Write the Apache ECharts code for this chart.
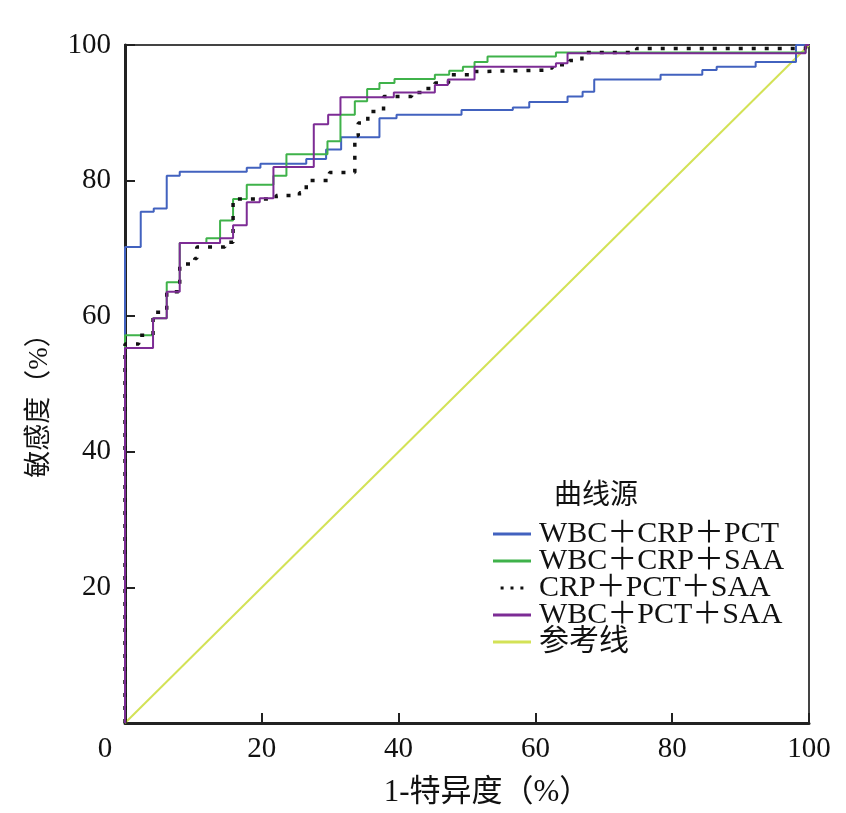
<!DOCTYPE html>
<html>
<head>
<meta charset="utf-8">
<script src="https://cdn.jsdelivr.net/npm/echarts@6/dist/echarts.min.js"></script>
<style>html,body{margin:0;padding:0;background:#fff}#c{width:846px;height:813px}</style>
</head>
<body>
<div id="c"></div>
<script>
var seriesNames = ['WBC＋CRP＋PCT', 'WBC＋CRP＋SAA', 'CRP＋PCT＋SAA', 'WBC＋PCT＋SAA', '参考线'];
var xTicks = [0, 20, 40, 60, 80, 100];
var yTicks = [0, 20, 40, 60, 80, 100];

var wbcCrpPct = [[0,0],[0,70.2],[2.3,75.4],[4.2,75.9],[6.1,80.7],[8.0,81.3],[17.8,81.9],[19.8,82.5],[26.5,83.2],[29.4,84.6],[31.6,86.4],[37.2,89.2],[39.7,89.7],[49.2,90.4],[56.7,90.8],[59.1,91.6],[64.7,92.4],[66.9,93.1],[68.6,94.9],[78.3,95.6],[84.4,96.3],[86.5,96.8],[92.2,97.5],[98.1,100],[100,100]];
var wbcCrpSaa = [[0,0],[0,57.2],[4.1,59.7],[6.1,65.0],[8.0,70.8],[11.9,71.5],[13.9,74.1],[15.8,77.3],[17.8,79.4],[21.7,80.7],[23.6,83.9],[29.6,85.8],[31.5,89.7],[33.6,91.7],[35.4,93.5],[37.2,94.4],[39.4,95.0],[45.3,95.6],[47.4,96.2],[49.4,96.8],[51.1,97.5],[53.0,98.3],[63.0,98.9],[99.5,100],[100,100]];
var crpPctSaa = [[0,0],[0,55.9],[2.0,57.2],[4.1,60.6],[6.1,63.6],[8.0,67.7],[10.2,68.5],[10.5,70.2],[14.6,70.9],[15.8,77.3],[22.1,77.8],[25.5,78.2],[26.5,80.0],[29.9,81.2],[33.6,86.6],[34.1,88.5],[35.5,90.2],[37.8,92.4],[41.9,93.0],[43.6,93.6],[45.3,94.4],[47.3,95.6],[50.7,96.1],[52.6,96.3],[61.5,96.6],[62.5,97.1],[65.0,97.7],[66.8,98.9],[74.8,99.5],[99.5,100],[100,100]];
var wbcPctSaa = [[0,0],[0,55.3],[4.1,59.7],[6.1,63.6],[8.0,70.8],[13.9,71.5],[15.8,73.4],[17.8,76.8],[19.7,77.4],[21.7,82.0],[27.6,88.3],[29.7,89.7],[31.5,92.3],[39.3,93.0],[45.3,94.1],[47.2,94.9],[51.1,96.8],[63.0,97.3],[64.7,98.8],[99.5,100],[100,100]];
var refLine = [[0,0],[100,100]];

var FONT = '"Liberation Serif", "Noto Sans CJK SC", serif';
var SOLID_ICON = 'rect';
var DOT_ICON = 'path://M0,0h5v5h-5zM16.5,0h5v5h-5zM33,0h5v5h-5z';
var chart = echarts.init(document.getElementById('c'));
function stepSeries(name, data, color, extra) {
  var s = {
    name: name, type: 'line', step: 'end', data: data,
    showSymbol: false, symbol: 'none', animation: false,
    lineStyle: { color: color, width: 2 }, itemStyle: { color: color }
  };
  if (extra) { for (var k in extra) s.lineStyle[k] = extra[k]; }
  return s;
}
chart.setOption({
  backgroundColor: '#fff',
  animation: false,
  title: {
    text: '曲线源', left: 549, top: 478,
    textStyle: { fontFamily: FONT, fontSize: 28, fontWeight: 'normal', color: '#111' }
  },
  legend: {
    orient: 'vertical', left: 493, top: 519, padding: 0,
    itemWidth: 38, itemHeight: 3, itemGap: -3,
    data: [
      { name: seriesNames[0], icon: SOLID_ICON },
      { name: seriesNames[1], icon: SOLID_ICON },
      { name: seriesNames[2], icon: DOT_ICON, itemStyle: { color: '#111' } },
      { name: seriesNames[3], icon: SOLID_ICON },
      { name: seriesNames[4], icon: SOLID_ICON }
    ],
    textStyle: { fontFamily: FONT, fontSize: 30, color: '#111', padding: [0, 0, 0, 3] }
  },
  grid: { left: 125, right: 37, top: 45, bottom: 86, show: true, borderColor: '#444', borderWidth: 2, backgroundColor: 'transparent' },
  xAxis: {
    type: 'value', min: 0, max: 100, interval: 20,
    name: '1-特异度（%）', nameLocation: 'middle', nameGap: 54,
    nameTextStyle: { fontFamily: FONT, fontSize: 31, color: '#111', padding: [0, 0, 0, 40] },
    axisLine: { show: true, lineStyle: { color: '#222', width: 3 } },
    axisTick: { inside: true, length: 10, lineStyle: { color: '#222', width: 2 } },
    splitLine: { show: false },
    axisLabel: {
      margin: 12, fontFamily: FONT, fontSize: 29, color: '#111',
      formatter: function (v) { return v === 0 ? '{z|0}' : String(v); },
      rich: { z: { fontFamily: FONT, fontSize: 29, color: '#111', padding: [0, 40, 0, 0] } }
    }
  },
  yAxis: {
    type: 'value', min: 0, max: 100, interval: 20,
    name: '敏感度（%）', nameLocation: 'middle', nameGap: 72,
    nameTextStyle: { fontFamily: FONT, fontSize: 27, color: '#111', padding: [0, 30, 0, 0] },
    axisLine: { show: true, lineStyle: { color: '#222', width: 3 } },
    axisTick: { inside: true, length: 10, lineStyle: { color: '#222', width: 2 } },
    splitLine: { show: false },
    axisLabel: {
      margin: 14, fontFamily: FONT, fontSize: 29, color: '#111',
      formatter: function (v) { return v === 0 ? '' : String(v); }
    }
  },
  series: [
    stepSeries(seriesNames[0], wbcCrpPct, '#4262bf'),
    stepSeries(seriesNames[1], wbcCrpSaa, '#3fb24a'),
    stepSeries(seriesNames[2], crpPctSaa, '#111111', { type: [4, 9], width: 3.5 }),
    stepSeries(seriesNames[3], wbcPctSaa, '#7d2c95'),
    { name: seriesNames[4], type: 'line', data: refLine, showSymbol: false, symbol: 'none', z: 1,
      lineStyle: { color: '#d3e256', width: 2 }, itemStyle: { color: '#d3e256' } }
  ]
});
</script>
</body>
</html>
